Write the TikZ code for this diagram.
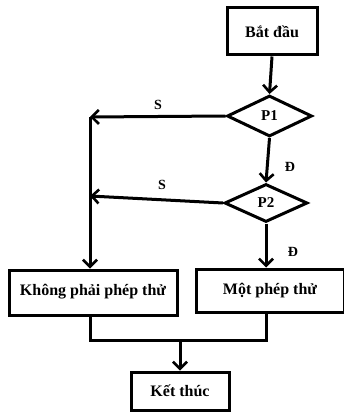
\documentclass[tikz,border=0pt]{standalone}
\usepackage{fontspec}
\setmainfont{Liberation Serif}
\usetikzlibrary{shapes.geometric,arrows.meta}
\begin{document}
\begin{tikzpicture}[x=1pt,y=-1pt,line width=3pt,
  box/.style={draw,rectangle,inner sep=0pt,font=\bfseries\fontsize{16}{18}\selectfont},
  dec/.style={draw,diamond,aspect=2,inner sep=0pt,font=\bfseries\fontsize{15}{17}\selectfont},
  arr/.style={-{Straight Barb[length=7pt,width=14pt,line width=2.6pt]}},
  lab/.style={font=\bfseries\fontsize{14}{16}\selectfont,inner sep=0pt}]
\useasboundingbox (0,0) rectangle (343,412);
\node[box,minimum width=90pt,minimum height=47pt] (start) at (272,31.5) {Bắt đầu};
\node[dec,minimum width=85pt,minimum height=41pt] (p1) at (269.5,116) {P1};
\node[dec,minimum width=83pt,minimum height=38pt] (p2) at (266,203) {P2};
\node[box,minimum width=168pt,minimum height=45pt,text height=20pt,text depth=14pt] (k) at (93,292.5) {Không phải phép thử};
\node[box,minimum width=148pt,minimum height=43pt] (m) at (270,290.5) {Một phép thử};
\node[box,minimum width=98pt,minimum height=38pt] (end) at (180,391) {Kết thúc};
\coordinate (s1) at (90,117);
\coordinate (s2) at (90,196);
\coordinate (j) at (180,340);
\draw[arr] (start.south) -- (p1.north);
\draw[arr] (p1.west) -- (s1);
\draw[arr] (p1.south) -- (p2.north);
\draw[arr] (p2.west) -- (s2);
\draw[arr] (s1) -- (s1 |- k.north);
\draw[arr] (p2.south) -- (p2.south |- m.north);
\draw (k.south -| s1) |- (j) -| (m.south -| p2.south);
\draw[arr] (j) -- (end.north);
\node[lab] (ls1) at (158,105) {S};
\node[lab] (ls2) at (162,185) {S};
\node[lab] (ld1) at (290,167) {Đ};
\node[lab] (ld2) at (293,252) {Đ};
\end{tikzpicture}
\end{document}
